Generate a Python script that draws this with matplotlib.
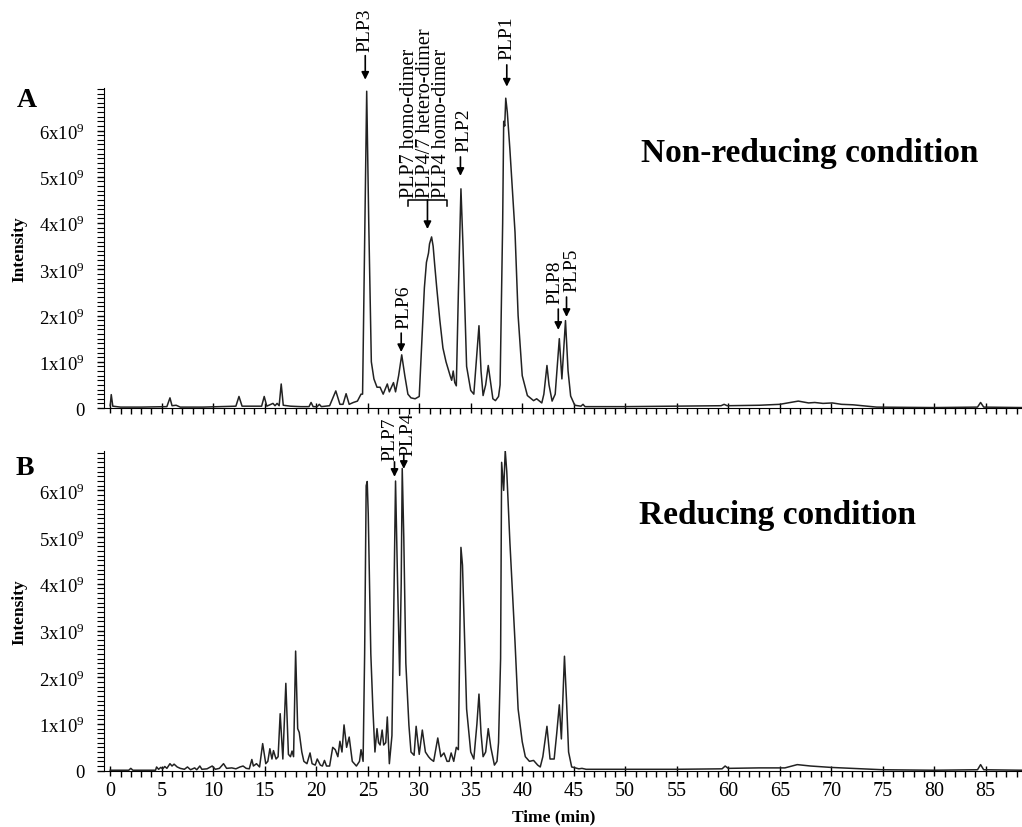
import numpy as np
import matplotlib
matplotlib.use('Agg')
import matplotlib.pyplot as plt
from matplotlib.ticker import MultipleLocator

plt.rcParams['font.family'] = ['Liberation Serif', 'DejaVu Serif']
plt.rcParams['mathtext.fontset'] = 'custom'
plt.rcParams['mathtext.rm'] = 'Liberation Serif'

# chromatogram A, non-reducing (time in min, intensity in 1e9)
time_a = [0.0, 0.1, 0.25, 1.0, 3.0, 5.5, 5.8, 6.0, 6.4, 6.8, 9.0, 10.5, 12.2, 12.5, 12.8,
          14.7, 14.95, 15.2, 15.6, 15.8, 16.0, 16.2, 16.4, 16.6, 16.8, 17.5, 18.5, 19.3,
          19.5, 19.7, 20.1, 20.3, 20.5, 21.3, 21.9, 22.3, 22.6, 22.9, 23.2, 23.6, 24.0,
          24.35, 24.5, 24.7, 24.9, 25.1, 25.35, 25.6, 25.9, 26.2, 26.5, 26.9, 27.1, 27.5,
          27.7, 28.0, 28.3, 28.6, 28.9, 29.2, 29.6, 30.0, 30.2, 30.5, 30.7, 30.9, 31.0,
          31.2, 31.35, 31.5, 31.7, 32.0, 32.3, 32.6, 32.8, 33.0, 33.15, 33.3, 33.45, 33.6,
          33.8, 34.05, 34.25, 34.6, 35.0, 35.3, 35.6, 35.8, 36.0, 36.2, 36.45, 36.7, 36.9,
          37.15, 37.4, 37.7, 37.85, 37.96, 38.1, 38.2, 38.3, 38.4, 38.55, 38.8, 39.3, 39.6,
          40.0, 40.5, 41.1, 41.4, 41.9, 42.1, 42.4, 42.6, 42.9, 43.2, 43.6, 43.85, 44.2,
          44.45, 44.7, 45.1, 45.7, 45.9, 46.1, 50.0, 55.0, 59.3, 59.6, 59.9, 63.0, 65.0,
          66.0, 66.8, 67.8, 68.4, 69.2, 70.1, 71.0, 72.1, 73.5, 74.4, 80.0, 84.2, 84.5,
          84.8, 88.5]
int_a = [0.05, 0.29, 0.04, 0.02, 0.02, 0.03, 0.22, 0.05, 0.06, 0.02, 0.02, 0.03, 0.04, 0.25, 0.04,
         0.04, 0.25, 0.04, 0.08, 0.10, 0.05, 0.10, 0.05, 0.52, 0.06, 0.04, 0.03, 0.03,
         0.12, 0.03, 0.03, 0.08, 0.03, 0.05, 0.37, 0.08, 0.08, 0.31, 0.08, 0.12, 0.15,
         0.30, 0.30, 3.5, 6.85, 4.0, 1.0, 0.63, 0.45, 0.45, 0.30, 0.52, 0.35, 0.55,
         0.35, 0.70, 1.15, 0.70, 0.30, 0.22, 0.20, 0.25, 1.2, 2.6, 3.15, 3.35, 3.55,
         3.7, 3.5, 3.1, 2.6, 1.9, 1.3, 1.0, 0.85, 0.70, 0.60, 0.80, 0.55, 0.48,
         2.5, 4.74, 3.5, 0.90, 0.38, 0.30, 1.2, 1.78, 0.80, 0.27, 0.50, 0.92, 0.60,
         0.20, 0.16, 0.25, 0.50, 2.0, 4.0, 6.2, 6.1, 6.7, 6.4, 5.6, 3.8, 2.0,
         0.70, 0.27, 0.16, 0.20, 0.11, 0.30, 0.92, 0.50, 0.15, 0.30, 1.5, 0.63, 1.89,
         0.80, 0.26, 0.06, 0.04, 0.08, 0.03, 0.03, 0.04, 0.05, 0.08, 0.05, 0.06, 0.08,
         0.12, 0.15, 0.11, 0.12, 0.10, 0.11, 0.08, 0.07, 0.04, 0.02, 0.01, 0.02, 0.12,
         0.02, 0.01]

# chromatogram B, reducing
time_b = [0.0, 1.8, 2.0, 2.2, 4.4, 4.5, 4.7, 4.9, 5.1, 5.3, 5.5, 5.8, 6.0, 6.2, 6.5, 6.8, 7.2,
          7.5, 7.8, 8.2, 8.4, 8.7, 8.9, 9.4, 9.9, 10.2, 10.6, 11.0, 11.3, 11.8, 12.2, 12.6,
          12.9, 13.2, 13.5, 13.75, 13.9, 14.2, 14.5, 14.8, 15.1, 15.3, 15.5, 15.7, 15.85,
          16.1, 16.3, 16.5, 16.76, 17.05, 17.3, 17.5, 17.65, 17.8, 18.0, 18.2, 18.35, 18.6,
          18.8, 19.1, 19.4, 19.6, 19.9, 20.1, 20.4, 20.6, 20.8, 21.0, 21.3, 21.6, 21.85,
          22.1, 22.3, 22.5, 22.7, 22.95, 23.2, 23.5, 23.9, 24.2, 24.35, 24.55, 24.7, 24.85,
          24.95, 25.05, 25.3, 25.5, 25.7, 25.9, 26.05, 26.2, 26.4, 26.55, 26.75, 26.9, 27.1,
          27.35, 27.5, 27.7, 27.9, 28.1, 28.25, 28.35, 28.5, 28.7, 29.0, 29.2, 29.5, 29.7,
          30.0, 30.3, 30.6, 30.9, 31.1, 31.4, 31.8, 32.1, 32.4, 32.7, 32.9, 33.1, 33.35,
          33.6, 33.8, 34.05, 34.2, 34.6, 35.0, 35.3, 35.6, 35.8, 36.0, 36.2, 36.45, 36.7,
          36.95, 37.3, 37.55, 37.7, 37.9, 38.0, 38.2, 38.35, 38.5, 38.8, 39.3, 39.6, 40.0,
          40.3, 40.7, 41.1, 41.5, 41.75, 42.0, 42.4, 42.7, 43.1, 43.35, 43.6, 43.8, 44.1,
          44.3, 44.5, 44.8, 45.5, 45.8, 46.2, 50.0, 55.0, 59.4, 59.7, 60.0, 63.0, 65.5,
          66.7, 68.0, 70.0, 72.0, 75.0, 80.0, 84.2, 84.5, 84.8, 88.5]
int_b = [0.01, 0.01, 0.05, 0.01, 0.01, 0.08, 0.03, 0.07, 0.04, 0.09, 0.05, 0.15, 0.10, 0.14, 0.08, 0.05, 0.03,
         0.08, 0.02, 0.06, 0.02, 0.10, 0.03, 0.04, 0.10, 0.03, 0.05, 0.15, 0.05, 0.06, 0.04, 0.08,
         0.10, 0.05, 0.04, 0.24, 0.10, 0.15, 0.08, 0.58, 0.15, 0.20, 0.47, 0.25, 0.43,
         0.25, 0.30, 1.22, 0.25, 1.87, 0.35, 0.30, 0.42, 0.30, 2.56, 0.90, 0.82, 0.40,
         0.20, 0.15, 0.38, 0.15, 0.12, 0.25, 0.12, 0.10, 0.22, 0.10, 0.10, 0.50, 0.45,
         0.30, 0.63, 0.40, 0.98, 0.50, 0.72, 0.20, 0.10, 0.20, 0.45, 0.20, 2.5, 6.1,
         6.19, 5.5, 2.5, 1.33, 0.40, 0.90, 0.60, 0.55, 0.87, 0.55, 0.60, 1.15, 0.15,
         0.75, 3.0, 6.2, 4.0, 2.04, 4.0, 6.47, 5.0, 2.3, 0.97, 0.40, 0.33, 0.95,
         0.35, 0.87, 0.40, 0.30, 0.25, 0.20, 0.70, 0.30, 0.38, 0.20, 0.20, 0.38, 0.20,
         0.50, 0.45, 4.78, 4.4, 1.32, 0.40, 0.25, 1.0, 1.64, 0.80, 0.30, 0.40, 0.90,
         0.50, 0.12, 0.20, 0.60, 2.4, 6.6, 6.0, 6.85, 6.4, 4.9, 2.75, 1.32, 0.62,
         0.30, 0.20, 0.22, 0.12, 0.08, 0.30, 0.95, 0.25, 0.25, 0.80, 1.41, 0.68, 2.45,
         1.5, 0.40, 0.08, 0.04, 0.05, 0.03, 0.03, 0.03, 0.04, 0.10, 0.05, 0.06, 0.06,
         0.13, 0.10, 0.07, 0.05, 0.02, 0.01, 0.02, 0.13, 0.02, 0.01]

ytick_vals = [0, 1, 2, 3, 4, 5, 6]
ytick_labels = ['0', '1x10$^9$', '2x10$^9$', '3x10$^9$', '4x10$^9$', '5x10$^9$', '6x10$^9$']

# single labels: (text, text x, text bottom y, arrow x, arrow tail y, arrow tip y)
labels_a = [('PLP3', 24.76, 7.73, 24.76, 7.62, 7.10),
            ('PLP1', 38.5, 7.55, 38.5, 7.42, 6.95),
            ('PLP2', 34.3, 5.56, 34.0, 5.43, 5.02),
            ('PLP6', 28.5, 1.73, 28.25, 1.62, 1.21),
            ('PLP8', 43.2, 2.27, 43.5, 2.14, 1.69),
            ('PLP5', 44.8, 2.53, 44.3, 2.40, 1.97)]
labels_b = [('PLP7', 27.2, 6.65, 27.6, 6.61, 6.29),
            ('PLP4', 28.9, 6.76, 28.5, 6.76, 6.46)]
dimer_names = ['PLP7 homo-dimer', 'PLP4/7 hetero-dimer', 'PLP4 homo-dimer']


def style_axis(ax, ymax, show_xlabels):
    ax.set_xlim(-0.6, 88.5)
    ax.set_ylim(0, ymax)
    ax.spines['top'].set_visible(False)
    ax.spines['right'].set_visible(False)
    ax.xaxis.set_major_locator(MultipleLocator(5))
    ax.xaxis.set_minor_locator(MultipleLocator(1))
    ax.yaxis.set_minor_locator(MultipleLocator(0.1))
    ax.set_yticks(ytick_vals, ytick_labels)
    ax.tick_params(axis='x', which='major', direction='inout', length=7, width=1,
                   labelsize=14.5, pad=4, labelbottom=show_xlabels)
    ax.tick_params(axis='x', which='minor', direction='out', length=4, width=1)
    ax.tick_params(axis='y', which='major', direction='out', length=5, width=1,
                   labelsize=13.5, pad=9)
    ax.tick_params(axis='y', which='minor', direction='out', length=5, width=0.8)
    ax.set_ylabel('Intensity', fontsize=12.5, fontweight='bold', labelpad=8)


def arrow(ax, x, y0, y1):
    ax.annotate('', xy=(x, y1), xytext=(x, y0), annotation_clip=False,
                arrowprops=dict(arrowstyle='-|>', color='black', lw=1.2,
                                mutation_scale=11, shrinkA=0, shrinkB=0))


fig = plt.figure(figsize=(10.22, 8.28), dpi=100)
ax1 = fig.add_axes([0.1018, 0.506, 0.898, 0.3865])
ax2 = fig.add_axes([0.1018, 0.068, 0.898, 0.3865])

ax1.plot(time_a, int_a, color='#222222', lw=1.1)
ax2.plot(time_b, int_b, color='#222222', lw=1.1)
style_axis(ax1, 6.92, False)
style_axis(ax2, 6.85, True)
ax2.set_xlabel('Time (min)', fontsize=12.5, fontweight='bold', labelpad=6, x=0.49)

for name, tx, ty, axx, ay0, ay1 in labels_a:
    ax1.text(tx, ty, name, rotation=90, ha='center', va='bottom', fontsize=14, clip_on=False)
    arrow(ax1, axx, ay0, ay1)
for name, tx, ty, axx, ay0, ay1 in labels_b:
    ax2.text(tx, ty, name, rotation=90, ha='center', va='bottom', fontsize=14, clip_on=False)
    arrow(ax2, axx, ay0, ay1)

# three stacked dimer names over the bracket
ax1.text(30.6, 4.57, '\n'.join(dimer_names), rotation=90, ha='center', va='bottom',
         multialignment='left', linespacing=0.78, fontsize=14.5, clip_on=False)
ax1.plot([28.9, 28.9, 32.7, 32.7], [4.36, 4.50, 4.50, 4.36], color='black', lw=1.1, clip_on=False)
arrow(ax1, 30.8, 4.50, 3.87)

fig.text(0.026, 0.879, 'A', fontsize=20, fontweight='bold', ha='center', va='center')
fig.text(0.024, 0.434, 'B', fontsize=20, fontweight='bold', ha='center', va='center')
ax1.text(0.769, 0.80, 'Non-reducing condition', transform=ax1.transAxes, fontsize=24,
         fontweight='bold', ha='center', va='center')
ax2.text(0.734, 0.80, 'Reducing condition', transform=ax2.transAxes, fontsize=24,
         fontweight='bold', ha='center', va='center')

plt.savefig('out.png', dpi=100)
